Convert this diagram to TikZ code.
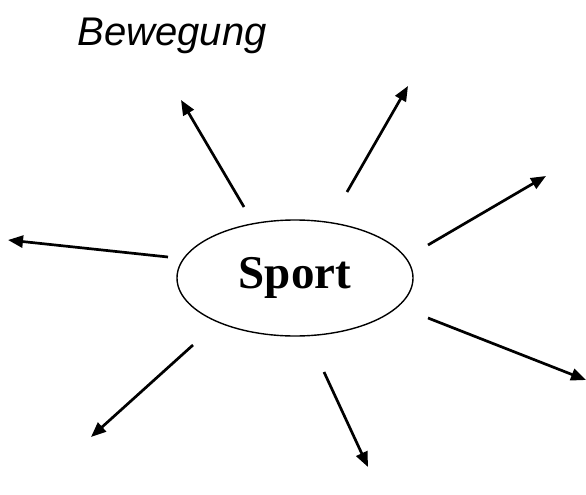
\documentclass[tikz,border=0pt]{standalone}
\usepackage{fontspec}
\setmainfont{Liberation Serif}
\newfontfamily\handfont{Liberation Sans}
\usetikzlibrary{arrows.meta,shapes.geometric}
\begin{document}
\begin{tikzpicture}[x=1pt,y=-1pt,
  ray/.style={line width=2.7pt,-{Triangle[length=15pt,width=12pt]}},
  hub/.style={ellipse,draw,line width=1.4pt,minimum width=236pt,minimum height=116pt,inner sep=0pt}]
\useasboundingbox (0,0) rectangle (586,495);
\node[hub] (sport) at (295,278) {};
\node (sporttext) at (295,278) {\fontsize{47}{50}\selectfont\bfseries Sport};
\node[anchor=west] (bew) at (74,36) {\handfont\itshape\fontsize{40}{42}\selectfont Bewegung};
\coordinate (s1) at (244,207); \coordinate (e1) at (181,100);
\coordinate (s2) at (347,192); \coordinate (e2) at (408,86);
\coordinate (s3) at (428,245); \coordinate (e3) at (546,176);
\coordinate (s4) at (168,257); \coordinate (e4) at (8,240);
\coordinate (s5) at (428,318); \coordinate (e5) at (586,380);
\coordinate (s6) at (324,372); \coordinate (e6) at (368,467);
\coordinate (s7) at (193,345); \coordinate (e7) at (91,437);
\foreach \i in {1,...,7} {\draw[ray] (s\i) -- (e\i);}
\end{tikzpicture}
\end{document}
